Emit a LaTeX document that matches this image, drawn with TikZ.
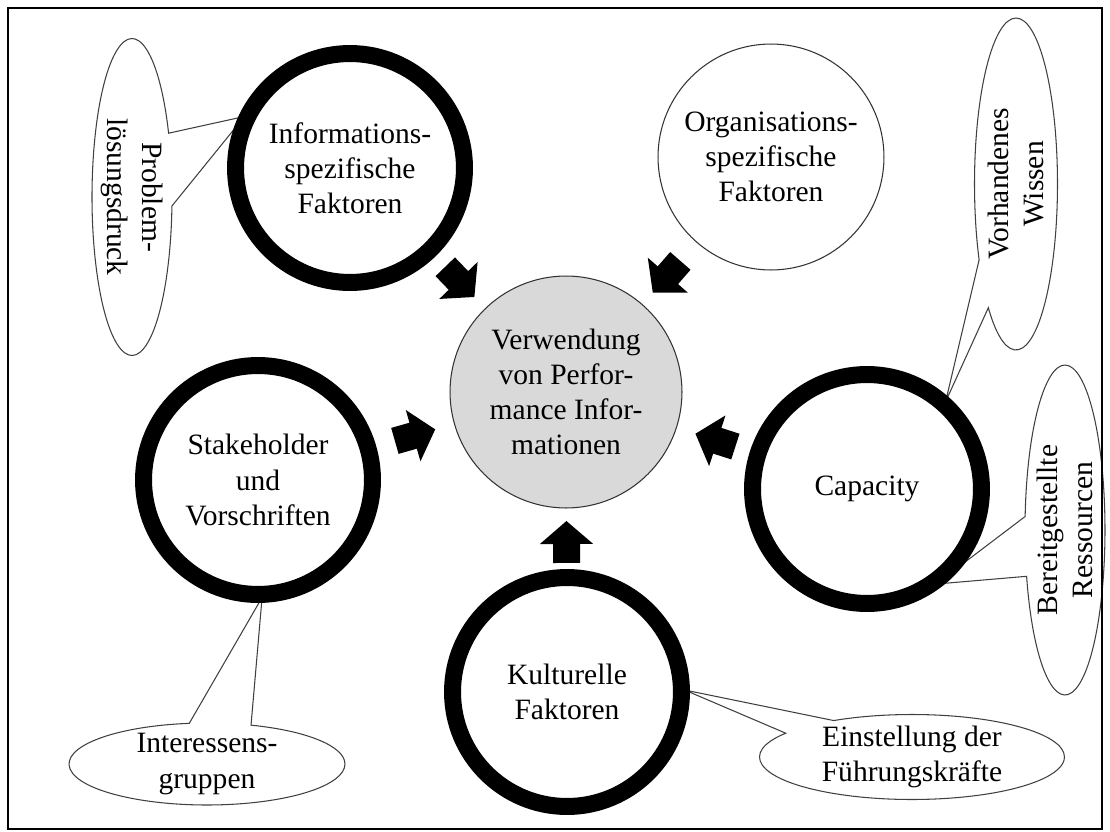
\documentclass[tikz,border=0pt]{standalone}
\usepackage{fontspec}
\setmainfont{Liberation Serif}
\usetikzlibrary{shapes.callouts,arrows.meta,calc,backgrounds}

\tikzset{
  factor/.style={circle, draw, line width=0.34cm, fill=white, minimum size=4.58cm, inner sep=0pt, align=center},
  thinfactor/.style={circle, draw=black!80, line width=0.6pt, fill=white, minimum size=4.52cm, inner sep=0pt, align=center},
  usage/.style={circle, draw=black!80, line width=0.6pt, fill=black!15, minimum size=4.64cm, inner sep=0pt, align=center},
  note/.style={ellipse callout, draw=black!75, line width=0.6pt, fill=white, inner sep=0pt, callout pointer arc=24},
  bigarrow/.style={line width=0.54cm, -{Triangle[length=0.46cm,width=1.04cm]}}
}

\begin{document}
\begin{tikzpicture}[x=0.02cm, y=-0.02cm, font=\fontsize{16.8}{20}\selectfont]
        \useasboundingbox (0,0) rectangle (1110,832);
        \draw[line width=1.2pt] (8,8) rectangle (1102,829);

        % circles
        \node[usage] (verw) at (566,392) {Verwendung\\von Perfor-\\mance Infor-\\mationen};
        \node[factor] (info) at (350,168) {Informations-\\spezifische\\Faktoren};
        \node[thinfactor] (orga) at (771,157) {Organisations-\\spezifische\\Faktoren};
        \node[factor] (stake) at (258,480) {Stakeholder\\und\\Vorschriften};
        \node[factor] (cap) at (867,489) {Capacity};
        \node[factor] (kult) at (567,692) {Kulturelle\\Faktoren};

        % callouts behind the rings
        \begin{pgfonlayer}{background}
        \node[note, minimum width=1.6cm, minimum height=6.34cm, callout pointer arc=27,
              callout absolute pointer={($(info.center)+(154:2.35cm)$)}] (druck) at (132,197) {};
        \node[note, minimum width=1.66cm, minimum height=6.64cm, callout pointer arc=21,
              callout absolute pointer={($(cap.center)+(48:2.35cm)$)}] (wissen) at (1016,184) {};
        \node[note, minimum width=1.6cm, minimum height=6.6cm, callout pointer arc=21,
              callout absolute pointer={($(cap.center)+(-54:2.35cm)$)}] (ressourcen) at (1065,530) {};
        \node[note, minimum width=5.52cm, minimum height=1.64cm, callout pointer arc=26,
              callout absolute pointer={($(stake.center)+(-88:2.35cm)$)}] (gruppen) at (207,764) {};
        \node[note, minimum width=6.1cm, minimum height=1.7cm, callout pointer arc=25,
              callout absolute pointer={($(kult.center)+(1:2.35cm)$)}] (einst) at (912,757) {};
        \end{pgfonlayer}

        \node[rotate=-90, align=center] (druckText) at (druck.center) {Problem-\\lösungsdruck};
        \node[rotate=90, align=center] (wissenText) at (wissen.center) {Vorhandenes\\Wissen};
        \node[rotate=90, align=center] (ressText) at (ressourcen.center) {Bereitgestellte\\Ressourcen};
        \node[align=center] (gruppenText) at (gruppen.center) {Interessens-\\gruppen};
        \node[align=center] (einstText) at (einst.center) {Einstellung der\\Führungskräfte};

        % arrows into the middle
        \draw[bigarrow] ($(verw)!3.48cm!(info)$) -- ($(verw)!2.64cm!(info)$);
        \draw[bigarrow] ($(verw)!3.48cm!(orga)$) -- ($(verw)!2.64cm!(orga)$);
        \draw[bigarrow] ($(verw)!3.56cm!(stake)$) -- ($(verw)!2.72cm!(stake)$);
        \draw[bigarrow] ($(verw)!3.56cm!(cap)$) -- ($(verw)!2.72cm!(cap)$);
        \draw[bigarrow] ($(verw)!3.42cm!(kult)$) -- ($(verw)!2.58cm!(kult)$);
\end{tikzpicture}
\end{document}
